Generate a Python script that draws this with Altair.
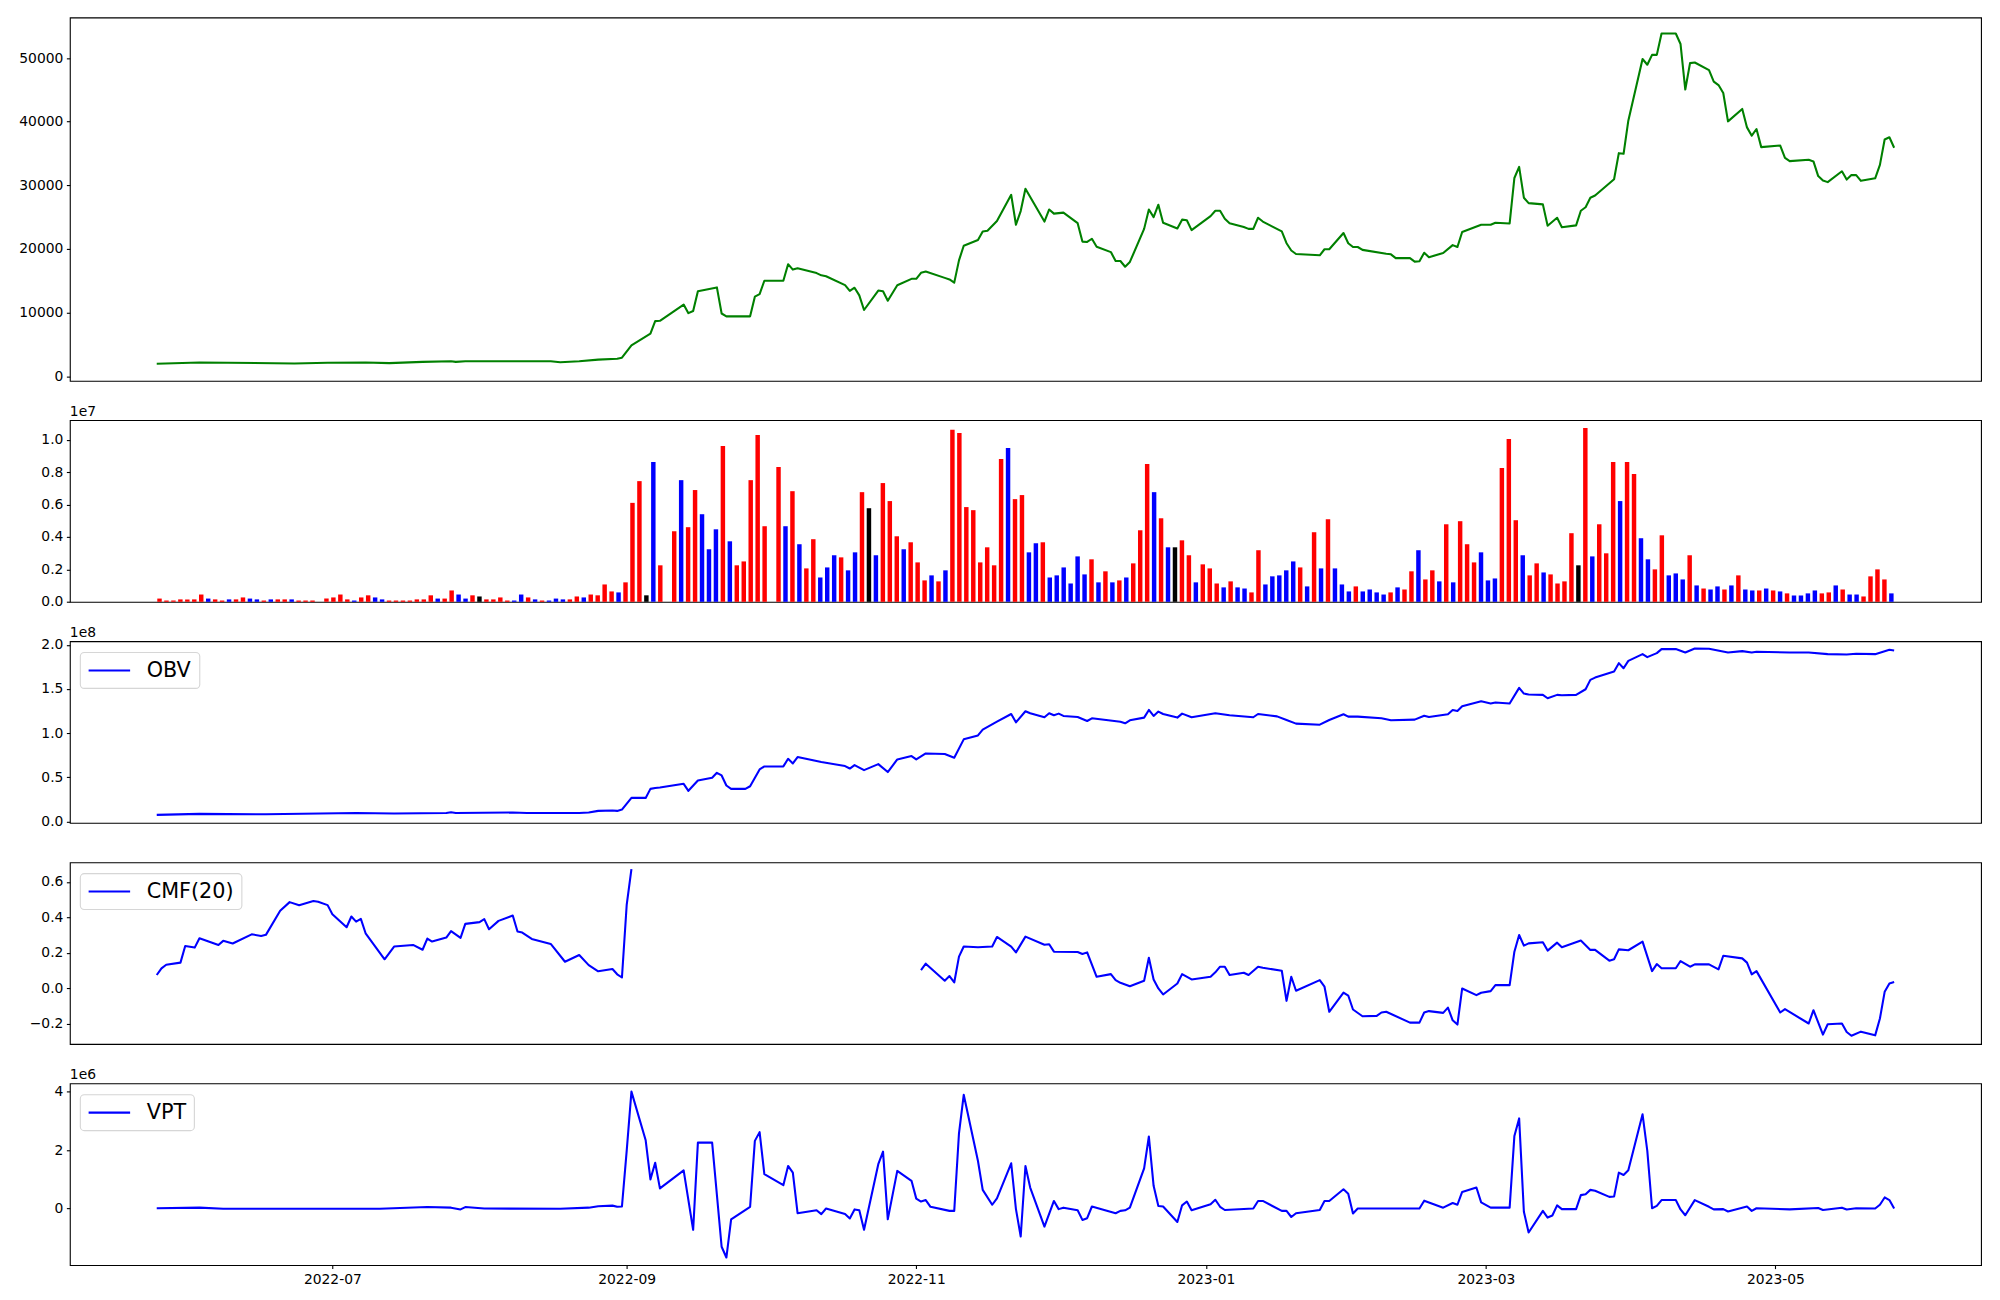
import altair as alt
import pandas as pd

# ---------------- data ----------------
price_dates = ["2022-05-25","2022-06-03","2022-06-23","2022-06-30","2022-07-08","2022-07-13","2022-07-20","2022-07-26","2022-07-27","2022-07-29",
"2022-08-16","2022-08-18","2022-08-22","2022-08-26","2022-08-30","2022-08-31","2022-09-02","2022-09-06","2022-09-07","2022-09-08",
"2022-09-13","2022-09-14","2022-09-15","2022-09-16","2022-09-20","2022-09-21","2022-09-22","2022-09-27","2022-09-28","2022-09-29",
"2022-09-30","2022-10-04","2022-10-05","2022-10-06","2022-10-07","2022-10-11","2022-10-12","2022-10-13","2022-10-17","2022-10-18",
"2022-10-19","2022-10-20","2022-10-21","2022-10-24","2022-10-25","2022-10-26","2022-10-28","2022-10-31","2022-11-01","2022-11-02",
"2022-11-03","2022-11-07","2022-11-08","2022-11-09","2022-11-10","2022-11-11","2022-11-14","2022-11-15","2022-11-16","2022-11-18",
"2022-11-21","2022-11-22","2022-11-23","2022-11-24","2022-11-28","2022-11-29","2022-11-30","2022-12-02","2022-12-05","2022-12-06",
"2022-12-07","2022-12-08","2022-12-09","2022-12-12","2022-12-13","2022-12-14","2022-12-15","2022-12-16","2022-12-19","2022-12-20",
"2022-12-21","2022-12-22","2022-12-23","2022-12-26","2022-12-27","2022-12-28","2022-12-29","2023-01-02","2023-01-03","2023-01-04",
"2023-01-05","2023-01-06","2023-01-09","2023-01-10","2023-01-11","2023-01-12","2023-01-13","2023-01-17","2023-01-18","2023-01-19",
"2023-01-20","2023-01-25","2023-01-26","2023-01-27","2023-01-30","2023-01-31","2023-02-01","2023-02-02","2023-02-03","2023-02-08",
"2023-02-09","2023-02-10","2023-02-13","2023-02-14","2023-02-15","2023-02-16","2023-02-17","2023-02-20","2023-02-22","2023-02-23",
"2023-02-24","2023-02-28","2023-03-02","2023-03-03","2023-03-06","2023-03-07","2023-03-08","2023-03-09","2023-03-10","2023-03-13",
"2023-03-14","2023-03-16","2023-03-17","2023-03-20","2023-03-21","2023-03-22","2023-03-23","2023-03-24","2023-03-28","2023-03-29",
"2023-03-30","2023-03-31","2023-04-03","2023-04-04","2023-04-05","2023-04-06","2023-04-07","2023-04-10","2023-04-11","2023-04-12",
"2023-04-13","2023-04-14","2023-04-17","2023-04-18","2023-04-19","2023-04-20","2023-04-21","2023-04-24","2023-04-25","2023-04-26",
"2023-04-27","2023-04-28","2023-05-02","2023-05-03","2023-05-04","2023-05-08","2023-05-09","2023-05-10","2023-05-11","2023-05-12",
"2023-05-15","2023-05-16","2023-05-17","2023-05-18","2023-05-19","2023-05-22","2023-05-23","2023-05-24","2023-05-25","2023-05-26"]
price_values = [1950,2150,2000,2100,2150,2050,2250,2350,2250,2350,
2350,2200,2350,2600,2750,2900,4850,6700,8650,8700,
11250,9900,10250,13350,13950,9850,9400,9400,12500,12900,
15000,15000,17600,16750,16950,16200,15850,15700,14300,13400,
13900,12700,10400,13450,13350,11850,14300,15300,15300,16250,
16450,15450,15200,14700,18200,20500,21400,22750,22850,24400,
28500,23800,25950,29450,24300,26200,25550,25700,24050,21150,
21100,21600,20350,19500,18100,18100,17200,17950,23150,26200,
25000,26950,24100,23200,24600,24500,22950,25150,26000,26000,
24750,24050,23450,23150,23150,24900,24300,22750,20900,19750,
19200,19000,19950,19950,22500,20900,20300,20300,19850,19250,
19150,18550,18550,18000,18050,19400,18700,19350,20600,20300,
22650,23800,23800,24100,24000,31150,32900,28050,27200,27000,
23650,24900,23400,23700,26000,26550,28050,28400,30950,35050,
34950,40150,49850,48950,50500,50500,53850,53850,52200,45050,
49200,49300,48100,46300,45750,44500,40050,42000,39100,37800,
38850,36000,36250,34300,33800,34000,33750,31450,30750,30500,
32200,30900,31600,31600,30700,31100,33200,37200,37550,35900]

# daily volume (millions), one bar per trading day
volume_millions = [0.2,0.08,0.08,0.15,0.15,0.15,0.45,0.2,0.15,0.08,
0.15,0.15,0.27,0.2,0.15,0.08,0.15,0.15,0.15,0.15,
0.08,0.08,0.08,0.0,0.2,0.27,0.45,0.15,0.08,0.27,
0.4,0.27,0.15,0.08,0.08,0.08,0.08,0.15,0.15,0.4,
0.2,0.2,0.7,0.45,0.2,0.4,0.33,0.15,0.15,0.27,
0.08,0.08,0.45,0.27,0.15,0.08,0.08,0.2,0.15,0.15,
0.33,0.27,0.45,0.4,1.07,0.64,0.58,1.2,6.1,7.44,
0.4,8.62,2.25,0.0,4.35,7.5,4.6,6.89,5.4,3.24,
4.47,9.61,3.73,2.25,2.49,7.5,10.29,4.66,0.0,8.31,
4.66,6.82,3.55,2.06,3.86,1.5,2.12,2.87,2.74,1.94,
3.05,6.76,5.77,2.87,7.32,6.21,4.04,3.24,3.67,2.43,
1.32,1.63,1.26,1.94,10.6,10.41,5.84,5.65,2.43,3.36,
2.25,8.8,9.48,6.33,6.58,3.05,3.61,3.67,1.5,1.63,
2.12,1.13,2.8,1.69,2.62,1.2,1.88,1.2,1.32,1.5,
2.37,4.41,8.49,6.76,5.15,3.36,3.36,3.79,2.87,1.2,
2.31,2.06,1.13,0.89,1.26,0.89,0.82,0.58,3.18,1.07,
1.57,1.63,1.94,2.49,2.12,0.95,4.29,2.06,5.09,2.06,
1.07,0.64,0.95,0.64,0.76,0.58,0.45,0.58,0.89,0.76,
1.88,3.18,1.38,1.94,1.26,4.78,1.2,4.97,3.55,2.43,
3.05,1.32,1.44,8.25,10.04,5.03,2.87,1.63,2.37,1.81,
1.69,1.13,1.26,4.23,2.25,10.72,2.8,4.78,2.99,8.62,
6.21,8.62,7.88,3.92,2.62,2.0,4.1,1.63,1.75,1.38,
2.87,1.01,0.82,0.76,0.95,0.76,1.01,1.63,0.76,0.7,
0.7,0.82,0.7,0.64,0.52,0.39,0.39,0.52,0.7,0.52,
0.58,1.01,0.76,0.45,0.45,0.33,1.57,2.0,1.38,0.52]
volume_colors = list(
"rrrrrrrbrr" "brrbbrbrrb" "rrrrrrrrbr" "rbbrrrrrrr" "brrbbrkrrr"
"rbbrbrbbbr" "rbrrrrbrrr" "kbrrrbrrbb" "brbrrrrrrr" "brbrrbbbrb"
"brkbrrrbrr" "rbrbrrrrrr" "rrbrrbbrbb" "bbbbrbrbrb" "rrrbrbkrrb"
"rrrbrbbrrb" "bbbbrbrbrb" "bbrbbbbrbr" "rbrrbrbrrr" "bbbrrrbrrb"
"rrrrkrbrrr" "brrbbrrbbb" "rbrbbrbrbb" "rbrbrbbbbr" "rbrbbrrrrb")

obv_dates = ["2022-05-25","2022-06-03","2022-06-17","2022-07-06","2022-07-14","2022-07-25","2022-07-26","2022-07-27","2022-08-08","2022-08-11",
"2022-08-22","2022-08-24","2022-08-26","2022-08-29","2022-08-30","2022-08-31","2022-09-02","2022-09-05","2022-09-06","2022-09-07",
"2022-09-08","2022-09-13","2022-09-14","2022-09-16","2022-09-19","2022-09-20","2022-09-21","2022-09-22","2022-09-23","2022-09-26",
"2022-09-27","2022-09-29","2022-09-30","2022-10-04","2022-10-05","2022-10-06","2022-10-07","2022-10-12","2022-10-17","2022-10-18",
"2022-10-19","2022-10-21","2022-10-24","2022-10-26","2022-10-28","2022-10-31","2022-11-01","2022-11-03","2022-11-07","2022-11-09",
"2022-11-11","2022-11-14","2022-11-15","2022-11-18","2022-11-21","2022-11-22","2022-11-24","2022-11-25","2022-11-28","2022-11-29",
"2022-11-30","2022-12-01","2022-12-02","2022-12-05","2022-12-07","2022-12-08","2022-12-14","2022-12-15","2022-12-16","2022-12-19",
"2022-12-20","2022-12-21","2022-12-22","2022-12-23","2022-12-26","2022-12-27","2022-12-29","2023-01-03","2023-01-06","2023-01-11",
"2023-01-12","2023-01-16","2023-01-18","2023-01-20","2023-01-25","2023-01-27","2023-01-30","2023-01-31","2023-02-02","2023-02-07",
"2023-02-09","2023-02-14","2023-02-16","2023-02-17","2023-02-21","2023-02-22","2023-02-23","2023-02-24","2023-02-28","2023-03-02",
"2023-03-03","2023-03-06","2023-03-08","2023-03-09","2023-03-10","2023-03-13","2023-03-14","2023-03-16","2023-03-17","2023-03-20",
"2023-03-22","2023-03-23","2023-03-24","2023-03-28","2023-03-29","2023-03-30","2023-03-31","2023-04-03","2023-04-04","2023-04-06",
"2023-04-07","2023-04-10","2023-04-12","2023-04-14","2023-04-17","2023-04-21","2023-04-24","2023-04-26","2023-04-27","2023-05-04",
"2023-05-08","2023-05-12","2023-05-16","2023-05-18","2023-05-22","2023-05-25","2023-05-26"]
obv_e8 = [0.076,0.087,0.083,0.098,0.091,0.098,0.106,0.098,0.102,0.098,
0.098,0.102,0.121,0.125,0.121,0.136,0.268,0.268,0.37,0.38,
0.386,0.427,0.348,0.465,0.495,0.552,0.522,0.408,0.37,0.37,
0.40,0.59,0.624,0.624,0.71,0.658,0.73,0.673,0.628,0.60,
0.639,0.582,0.65,0.56,0.703,0.741,0.703,0.771,0.764,0.722,
0.93,0.975,1.04,1.13,1.217,1.123,1.248,1.225,1.18,1.225,
1.202,1.221,1.195,1.183,1.138,1.168,1.13,1.112,1.146,1.176,
1.263,1.195,1.244,1.217,1.176,1.221,1.18,1.225,1.202,1.18,
1.217,1.19,1.149,1.108,1.096,1.149,1.214,1.187,1.187,1.168,
1.146,1.153,1.198,1.183,1.214,1.263,1.251,1.304,1.361,1.335,
1.346,1.335,1.512,1.448,1.437,1.433,1.395,1.433,1.429,1.433,
1.497,1.603,1.629,1.698,1.792,1.735,1.818,1.894,1.86,1.905,
1.951,1.951,1.913,1.958,1.955,1.913,1.928,1.913,1.92,1.913,
1.913,1.894,1.89,1.898,1.894,1.943,1.936]

cmf_dates_a = ["2022-05-25","2022-05-26","2022-05-27","2022-05-30","2022-05-31","2022-06-02","2022-06-03","2022-06-07","2022-06-08","2022-06-10",
"2022-06-14","2022-06-16","2022-06-17","2022-06-20","2022-06-22","2022-06-24","2022-06-27","2022-06-28","2022-06-30","2022-07-01",
"2022-07-04","2022-07-05","2022-07-06","2022-07-07","2022-07-08","2022-07-12","2022-07-14","2022-07-18","2022-07-20","2022-07-21",
"2022-07-22","2022-07-25","2022-07-26","2022-07-28","2022-07-29","2022-08-01","2022-08-02","2022-08-03","2022-08-05","2022-08-08",
"2022-08-09","2022-08-10","2022-08-12","2022-08-16","2022-08-19","2022-08-22","2022-08-24","2022-08-26","2022-08-29","2022-08-30",
"2022-08-31","2022-09-01","2022-09-02"]
cmf_values_a = [0.074,0.112,0.132,0.144,0.238,0.229,0.282,0.244,0.267,0.252,
0.304,0.295,0.301,0.437,0.486,0.469,0.492,0.488,0.469,0.418,
0.344,0.405,0.376,0.391,0.31,0.163,0.235,0.244,0.217,0.28,
0.263,0.286,0.322,0.284,0.363,0.373,0.39,0.333,0.38,0.41,
0.32,0.314,0.278,0.25,0.149,0.187,0.13,0.095,0.108,0.078,
0.06,0.47,0.673]
cmf_dates_b = ["2022-11-02","2022-11-03","2022-11-07","2022-11-08","2022-11-09","2022-11-10","2022-11-11","2022-11-14","2022-11-17","2022-11-18",
"2022-11-21","2022-11-22","2022-11-24","2022-11-28","2022-11-29","2022-11-30","2022-12-05","2022-12-06","2022-12-07","2022-12-09",
"2022-12-12","2022-12-13","2022-12-14","2022-12-16","2022-12-19","2022-12-20","2022-12-21","2022-12-22","2022-12-23","2022-12-26",
"2022-12-27","2022-12-29","2023-01-02","2023-01-03","2023-01-04","2023-01-05","2023-01-06","2023-01-09","2023-01-10","2023-01-12",
"2023-01-13","2023-01-17","2023-01-18","2023-01-19","2023-01-20","2023-01-25","2023-01-26","2023-01-27","2023-01-30","2023-01-31",
"2023-02-01","2023-02-03","2023-02-06","2023-02-07","2023-02-08","2023-02-13","2023-02-15","2023-02-16","2023-02-17","2023-02-20",
"2023-02-21","2023-02-22","2023-02-23","2023-02-24","2023-02-27","2023-02-28","2023-03-02","2023-03-03","2023-03-06","2023-03-07",
"2023-03-08","2023-03-09","2023-03-10","2023-03-13","2023-03-14","2023-03-16","2023-03-17","2023-03-21","2023-03-23","2023-03-24",
"2023-03-27","2023-03-28","2023-03-29","2023-03-31","2023-04-03","2023-04-05","2023-04-06","2023-04-07","2023-04-10","2023-04-11",
"2023-04-13","2023-04-14","2023-04-17","2023-04-19","2023-04-20","2023-04-24","2023-04-25","2023-04-26","2023-04-27","2023-05-02",
"2023-05-03","2023-05-08","2023-05-09","2023-05-11","2023-05-12","2023-05-15","2023-05-16","2023-05-17","2023-05-19","2023-05-22",
"2023-05-23","2023-05-24","2023-05-25","2023-05-26"]
cmf_values_b = [0.102,0.138,0.042,0.068,0.032,0.178,0.235,0.231,0.235,0.289,
0.235,0.202,0.291,0.245,0.248,0.206,0.204,0.193,0.202,0.064,
0.079,0.045,0.03,0.011,0.042,0.172,0.049,-0.002,-0.036,0.026,
0.079,0.049,0.064,0.089,0.121,0.121,0.074,0.087,0.074,0.121,
0.115,0.098,-0.072,0.064,-0.015,0.045,0.008,-0.134,-0.025,-0.042,
-0.121,-0.159,-0.157,-0.138,-0.134,-0.195,-0.195,-0.138,-0.13,-0.14,
-0.11,-0.182,-0.206,-0.002,-0.04,-0.026,-0.017,0.017,0.017,0.206,
0.30,0.24,0.253,0.259,0.212,0.257,0.231,0.269,0.216,0.216,
0.155,0.163,0.219,0.214,0.263,0.096,0.136,0.112,0.112,0.153,
0.121,0.134,0.134,0.106,0.183,0.168,0.144,0.078,0.096,-0.138,
-0.119,-0.2,-0.125,-0.263,-0.204,-0.2,-0.248,-0.269,-0.246,-0.267,
-0.172,-0.021,0.026,0.034]

vpt_dates = ["2022-05-25","2022-06-03","2022-06-08","2022-07-11","2022-07-21","2022-07-26","2022-07-28","2022-07-29","2022-08-02","2022-08-18",
"2022-08-24","2022-08-26","2022-08-29","2022-08-30","2022-08-31","2022-09-01","2022-09-02","2022-09-05","2022-09-06","2022-09-07",
"2022-09-08","2022-09-13","2022-09-15","2022-09-16","2022-09-19","2022-09-21","2022-09-22","2022-09-23","2022-09-27","2022-09-28",
"2022-09-29","2022-09-30","2022-10-04","2022-10-05","2022-10-06","2022-10-07","2022-10-11","2022-10-12","2022-10-13","2022-10-17",
"2022-10-18","2022-10-19","2022-10-20","2022-10-21","2022-10-24","2022-10-25","2022-10-26","2022-10-28","2022-10-31","2022-11-01",
"2022-11-02","2022-11-03","2022-11-04","2022-11-08","2022-11-09","2022-11-10","2022-11-11","2022-11-14","2022-11-15","2022-11-17",
"2022-11-18","2022-11-21","2022-11-22","2022-11-23","2022-11-24","2022-11-25","2022-11-28","2022-11-30","2022-12-01","2022-12-02",
"2022-12-05","2022-12-06","2022-12-07","2022-12-08","2022-12-13","2022-12-14","2022-12-15","2022-12-16","2022-12-19","2022-12-20",
"2022-12-21","2022-12-22","2022-12-23","2022-12-26","2022-12-27","2022-12-28","2022-12-29","2023-01-02","2023-01-03","2023-01-04",
"2023-01-05","2023-01-11","2023-01-12","2023-01-13","2023-01-17","2023-01-18","2023-01-19","2023-01-20","2023-01-25","2023-01-26",
"2023-01-27","2023-01-30","2023-01-31","2023-02-01","2023-02-02","2023-02-15","2023-02-16","2023-02-20","2023-02-22","2023-02-23",
"2023-02-24","2023-02-27","2023-02-28","2023-03-02","2023-03-06","2023-03-07","2023-03-08","2023-03-09","2023-03-10","2023-03-13",
"2023-03-14","2023-03-15","2023-03-16","2023-03-17","2023-03-20","2023-03-21","2023-03-22","2023-03-23","2023-03-24","2023-03-27",
"2023-03-28","2023-03-29","2023-03-30","2023-03-31","2023-04-03","2023-04-04","2023-04-05","2023-04-06","2023-04-07","2023-04-10",
"2023-04-11","2023-04-12","2023-04-14","2023-04-17","2023-04-18","2023-04-20","2023-04-21","2023-04-25","2023-04-26","2023-04-27",
"2023-05-04","2023-05-10","2023-05-11","2023-05-15","2023-05-16","2023-05-18","2023-05-22","2023-05-23","2023-05-24","2023-05-25",
"2023-05-26"]
vpt_e6 = [0.01,0.03,-0.01,-0.01,0.05,0.03,-0.03,0.05,0.0,-0.01,
0.03,0.08,0.10,0.06,0.07,1.98,4.01,2.34,1.0,1.57,
0.69,1.31,-0.73,2.26,2.26,-1.31,-1.68,-0.37,0.06,2.32,
2.62,1.18,0.8,1.46,1.23,-0.16,-0.06,-0.19,0.0,-0.19,
-0.34,-0.03,-0.06,-0.73,1.52,1.95,-0.37,1.29,0.95,0.34,
0.24,0.29,0.06,-0.08,-0.08,2.58,3.9,1.63,0.64,0.13,
0.35,1.55,-0.02,-0.96,1.46,0.72,-0.62,0.26,-0.02,0.03,
-0.06,-0.39,-0.33,0.07,-0.16,-0.08,-0.06,0.03,1.38,2.47,
0.78,0.09,0.07,-0.46,0.11,0.24,-0.06,0.15,0.3,0.06,
-0.05,0.0,0.26,0.26,-0.08,-0.08,-0.29,-0.16,-0.05,0.26,
0.26,0.66,0.51,-0.17,0.0,0.0,0.27,0.03,0.19,0.13,
0.57,0.72,0.21,0.03,0.03,2.49,3.09,-0.11,-0.82,-0.08,
-0.31,-0.24,0.11,-0.02,-0.02,0.46,0.49,0.64,0.61,0.4,
0.41,1.23,1.15,1.31,3.23,1.98,0.01,0.09,0.29,0.29,
-0.03,-0.23,0.29,0.06,-0.03,-0.02,-0.1,0.07,-0.08,0.01,
-0.03,0.02,-0.05,0.03,-0.03,0.01,0.0,0.13,0.38,0.29,
0.0]

# ---------------- layout ----------------
W = 1915.5
H1 = 364.2
H = 182.1
FONT = "DejaVu Sans"
LW = 2.08

x_time = alt.Scale(
    type="utc", nice=False,
    domain=[alt.DateTime(year=2022, month=5, date=6, hours=16, minutes=48, utc=True),
            alt.DateTime(year=2023, month=6, date=13, hours=7, minutes=12, utc=True)])


def yaxis(values, fmt=None, expr=None):
    kw = dict(values=values, title=None)
    if fmt:
        kw["format"] = fmt
    if expr:
        kw["labelExpr"] = expr
    return alt.Axis(**kw)


def offset_text(txt):
    return alt.Chart(pd.DataFrame({"t": [txt]})).mark_text(
        align="left", baseline="alphabetic", fontSize=13.9, font=FONT, color="black"
    ).encode(text="t:N", x=alt.value(0), y=alt.value(-4))


def legend_layers(txt, box_w):
    df = pd.DataFrame({"t": [txt]})
    box = alt.Chart(df).mark_rect(fill="white", stroke="#cccccc", strokeWidth=1.1,
                                  cornerRadius=4, opacity=0.8).encode(
        x=alt.value(10.5), x2=alt.value(10.5 + box_w), y=alt.value(11.3), y2=alt.value(47.3))
    handle = alt.Chart(df).mark_rule(color="blue", strokeWidth=LW).encode(
        x=alt.value(18.8), x2=alt.value(60.4), y=alt.value(29.3))
    label = alt.Chart(df).mark_text(align="left", baseline="middle", fontSize=20.8,
                                    font=FONT, color="black").encode(
        text="t:N", x=alt.value(77), y=alt.value(30))
    return [box, handle, label]


# price panel
price_df = pd.DataFrame({"date": price_dates, "close": price_values})
price = alt.Chart(price_df).mark_line(color="green", strokeWidth=LW, strokeJoin="round").encode(
    x=alt.X("date:T", scale=x_time, axis=None),
    y=alt.Y("close:Q", scale=alt.Scale(domain=[-730, 56380], nice=False, zero=False),
            axis=yaxis([0, 10000, 20000, 30000, 40000, 50000], fmt="d")),
).properties(width=W, height=H1)

# volume panel
vol_df = pd.DataFrame({"idx": list(range(len(volume_millions))),
                       "vol": volume_millions, "c": volume_colors})
bars = alt.Chart(vol_df).transform_calculate(
    x0="datum.idx - 0.32", x1="datum.idx + 0.32", base="0"
).mark_bar().encode(
    x=alt.X("x0:Q", scale=alt.Scale(domain=[-12.89, 261.89], nice=False, zero=False), axis=None),
    x2="x1:Q",
    y=alt.Y("vol:Q", scale=alt.Scale(domain=[0, 11.2], nice=False),
            axis=yaxis([0, 2, 4, 6, 8, 10], expr="format(datum.value / 10, '.1f')")),
    y2="base:Q",
    color=alt.Color("c:N", scale=alt.Scale(domain=["r", "b", "k"], range=["red", "blue", "black"]),
                    legend=None),
)
volume = alt.layer(bars, offset_text("1e7")).properties(width=W, height=H)

# OBV panel
obv_df = pd.DataFrame({"date": obv_dates, "v": obv_e8})
obv_line = alt.Chart(obv_df).mark_line(color="blue", strokeWidth=LW, strokeJoin="round").encode(
    x=alt.X("date:T", scale=x_time, axis=None),
    y=alt.Y("v:Q", scale=alt.Scale(domain=[-0.015, 2.04], nice=False, zero=False),
            axis=yaxis([0, 0.5, 1.0, 1.5, 2.0], fmt=".1f")),
)
obv = alt.layer(obv_line, *legend_layers("OBV", 119.7), offset_text("1e8")).properties(width=W, height=H)

# CMF panel (gap in the middle)
cmf_df = pd.concat([
    pd.DataFrame({"date": cmf_dates_a, "v": cmf_values_a, "seg": "a"}),
    pd.DataFrame({"date": cmf_dates_b, "v": cmf_values_b, "seg": "b"}),
])
cmf_line = alt.Chart(cmf_df).mark_line(color="blue", strokeWidth=LW, strokeJoin="round").encode(
    x=alt.X("date:T", scale=x_time, axis=None),
    y=alt.Y("v:Q", scale=alt.Scale(domain=[-0.316, 0.711], nice=False, zero=False),
            axis=yaxis([-0.2, 0.0, 0.2, 0.4, 0.6], fmt=".1f")),
    detail="seg:N",
)
cmf = alt.layer(cmf_line, *legend_layers("CMF(20)", 161.9)).properties(width=W, height=H)

# VPT panel
vpt_df = pd.DataFrame({"date": vpt_dates, "v": vpt_e6})
x_ticks = [alt.DateTime(year=y, month=m, date=1, utc=True)
           for y, m in [(2022, 7), (2022, 9), (2022, 11), (2023, 1), (2023, 3), (2023, 5)]]
vpt_line = alt.Chart(vpt_df).mark_line(color="blue", strokeWidth=LW, strokeJoin="round").encode(
    x=alt.X("date:T", scale=x_time,
            axis=alt.Axis(values=x_ticks, format="%Y-%m", title=None, labelAngle=0,
                          labelFlush=False, labelOverlap=False)),
    y=alt.Y("v:Q", scale=alt.Scale(domain=[-1.94, 4.29], nice=False, zero=False),
            axis=yaxis([0, 2, 4], fmt="d")),
)
vpt = alt.layer(vpt_line, *legend_layers("VPT", 114.3), offset_text("1e6")).properties(width=W, height=H)

chart = alt.vconcat(price, volume, obv, cmf, vpt, spacing=38.6, bounds="flush").resolve_scale(
    x="independent", y="independent", color="independent"
).properties(
    padding={"left": 10, "top": 7, "right": 10, "bottom": 10},
    background="white",
).configure_view(
    stroke="black", strokeWidth=1.1
).configure_axis(
    grid=False, domain=False, labelFont=FONT, labelFontSize=13.9, labelColor="black",
    tickColor="black", tickSize=3.5, tickWidth=1.1, labelPadding=3.5,
)

chart.save("out.html", embed_options={"renderer": "svg", "actions": False})
